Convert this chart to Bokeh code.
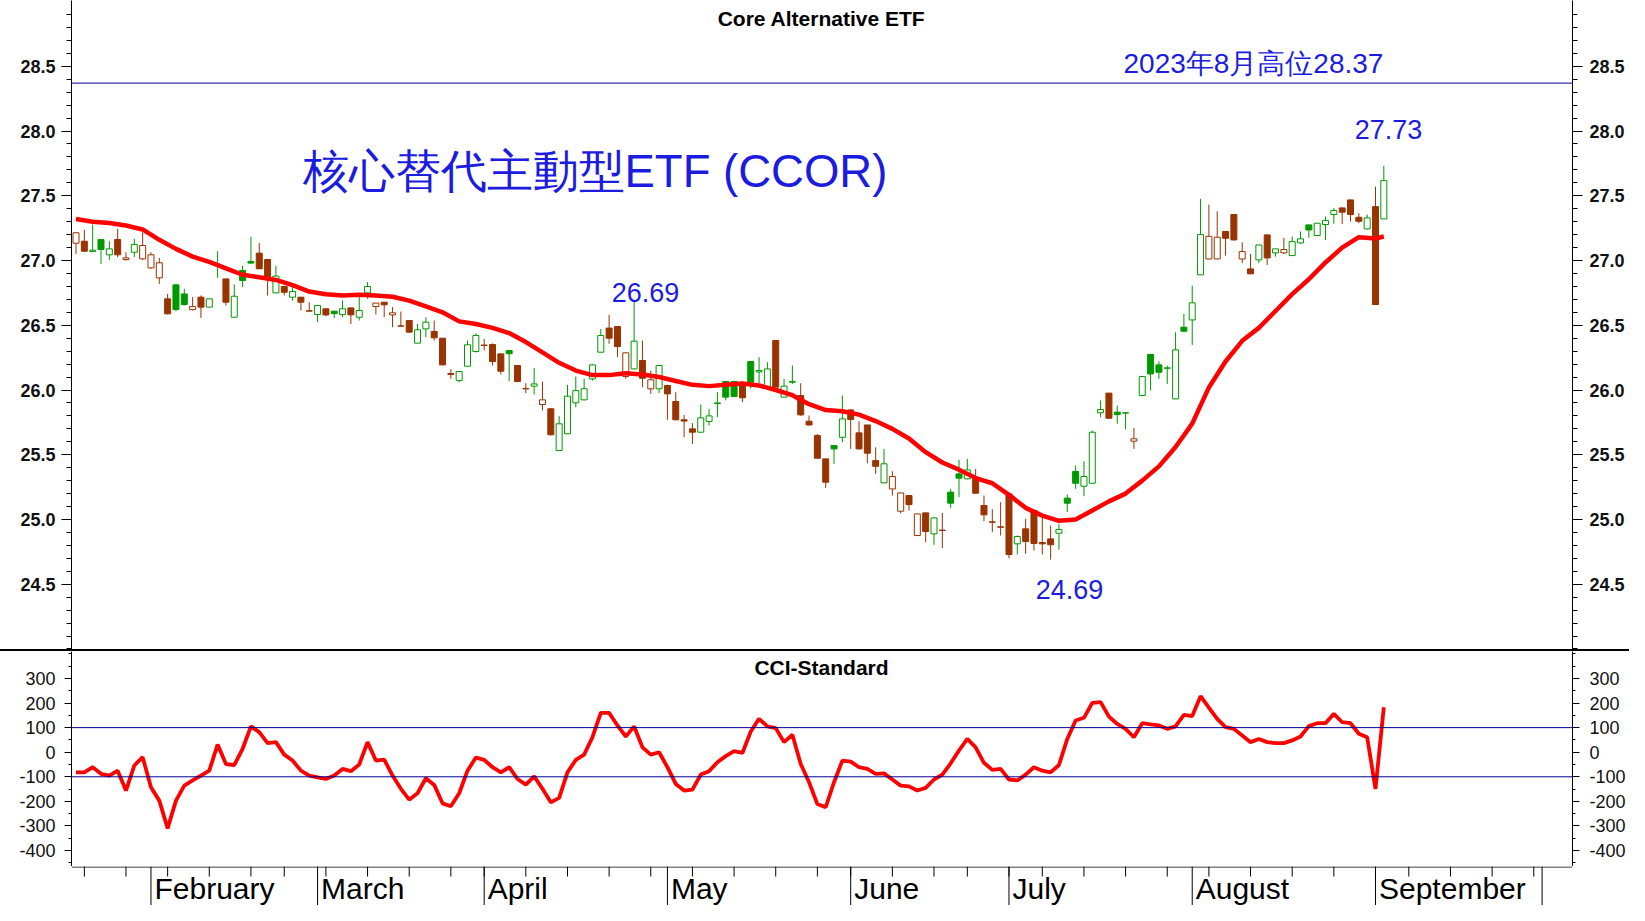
from bokeh.plotting import figure
from bokeh.models import (Range1d, LinearAxis, FixedTicker, Label, Span, Div,
                          PrintfTickFormatter, ColumnDataSource)
from bokeh.layouts import column
from bokeh.embed import file_html
from bokeh.resources import INLINE

# ---------------- data (trading-day index 0 = 2024-01-19) ----------------
prev_close = 27.25
opens = [27.134, 27.149, 27.07, 27.162, 27.044, 27.162, 27.007, 27.064, 27.013, 26.943,
         26.866, 26.704, 26.812, 26.742, 26.621, 26.717, 26.64, 26.96, 26.858, 26.562,
         26.923, 26.992, 27.057, 27.008, 26.75, 26.80, 26.717, 26.717, 26.612, 26.583,
         26.627, 26.609, 26.583, 26.634, 26.562, 26.75, 26.645, 26.678, 26.58, 26.495,
         26.537, 26.362, 26.472, 26.452, 26.40, 26.127, 26.073, 26.184, 26.297, 26.347,
         26.351, 26.279, 26.305, 26.189, 26.012, 26.03, 25.888, 25.855, 25.533, 25.662,
         25.901, 25.924, 26.086, 26.292, 26.478, 26.49, 26.104, 26.163, 26.228, 26.009,
         26.009, 26.035, 25.911, 25.77, 25.70, 25.674, 25.757, 25.895, 26.066, 26.066,
         26.047, 26.22, 26.14, 26.022, 26.382, 25.945, 26.06, 25.957, 25.759, 25.648,
         25.468, 25.571, 25.635, 25.846, 25.669, 25.73, 25.455, 25.283, 25.236, 25.064,
         25.185, 24.876, 25.051, 24.889, 24.918, 25.211, 25.352, 25.314, 25.326, 25.108,
         24.982, 24.943, 25.198, 24.812, 24.928, 25.07, 24.822, 24.85, 24.894, 25.165,
         25.371, 25.257, 25.28, 25.824, 25.976, 25.829, 25.822, 25.605, 25.958, 26.274,
         26.194, 26.168, 25.931, 26.485, 26.541, 26.889, 27.012, 27.012, 27.224, 27.355,
         27.012, 26.935, 27.005, 27.198, 27.059, 27.059, 27.038, 27.136, 27.275, 27.193,
         27.278, 27.355, 27.406, 27.468, 27.334, 27.244, 27.416, 27.321]
highs = [27.22, 27.237, 27.278, 27.162, 27.149, 27.244, 27.064, 27.167, 27.218, 27.064,
         27.02, 26.742, 26.815, 26.781, 26.717, 26.73, 26.704, 27.072, 26.86, 26.815,
         26.961, 27.185, 27.134, 27.008, 26.96, 26.80, 26.80, 26.717, 26.678, 26.653,
         26.63, 26.61, 26.691, 26.634, 26.717, 26.833, 26.671, 26.678, 26.64, 26.606,
         26.537, 26.51, 26.562, 26.537, 26.40, 26.16, 26.143, 26.382, 26.439, 26.395,
         26.36, 26.28, 26.305, 26.19, 26.053, 26.171, 26.066, 25.86, 25.798, 26.04,
         26.104, 26.086, 26.2, 26.472, 26.58, 26.49, 26.29, 26.69, 26.382, 26.15,
         26.19, 26.04, 25.983, 25.808, 25.744, 25.888, 25.855, 25.983, 26.066, 26.07,
         26.05, 26.22, 26.254, 26.215, 26.382, 26.086, 26.189, 26.052, 25.803, 25.661,
         25.47, 25.575, 25.957, 25.85, 25.759, 25.73, 25.558, 25.545, 25.373, 25.205,
         25.185, 25.045, 25.052, 25.015, 25.051, 25.237, 25.461, 25.468, 25.391, 25.185,
         25.08, 25.134, 25.198, 24.876, 25.005, 25.07, 25.031, 24.953, 24.967, 25.193,
         25.417, 25.45, 25.687, 25.919, 25.976, 25.88, 25.826, 25.708, 26.11, 26.28,
         26.222, 26.189, 26.446, 26.588, 26.806, 27.476, 27.432, 27.38, 27.225, 27.36,
         27.141, 27.051, 27.12, 27.2, 27.09, 27.175, 27.185, 27.224, 27.276, 27.29,
         27.339, 27.406, 27.41, 27.47, 27.365, 27.355, 27.571, 27.73]
lows = [27.05, 27.065, 27.065, 26.974, 27.005, 27.026, 27.0, 27.026, 27.005, 26.935,
        26.82, 26.585, 26.608, 26.652, 26.614, 26.557, 26.64, 26.866, 26.652, 26.56,
        26.794, 26.974, 26.936, 26.73, 26.75, 26.73, 26.69, 26.614, 26.605, 26.524,
        26.57, 26.557, 26.562, 26.51, 26.537, 26.704, 26.583, 26.562, 26.485, 26.49,
        26.44, 26.362, 26.408, 26.382, 26.19, 26.086, 26.06, 26.18, 26.29, 26.305,
        26.189, 26.12, 26.068, 26.06, 25.976, 25.965, 25.842, 25.65, 25.53, 25.66,
        25.867, 25.92, 26.073, 26.29, 26.357, 26.254, 26.086, 26.16, 26.022, 25.97,
        25.976, 25.77, 25.765, 25.636, 25.584, 25.67, 25.726, 25.79, 25.92, 25.945,
        25.906, 26.01, 26.053, 26.02, 26.02, 25.945, 26.047, 25.80, 25.725, 25.47,
        25.244, 25.43, 25.597, 25.545, 25.54, 25.435, 25.352, 25.28, 25.185, 25.048,
        25.07, 24.875, 24.825, 24.805, 24.78, 25.09, 25.172, 25.31, 25.2, 24.987,
        24.902, 24.876, 24.70, 24.73, 24.735, 24.76, 24.73, 24.69, 24.766, 25.057,
        25.237, 25.18, 25.28, 25.79, 25.78, 25.739, 25.695, 25.546, 25.955, 25.996,
        26.086, 26.047, 25.93, 26.45, 26.348, 26.889, 27.01, 27.01, 27.038, 27.155,
        26.979, 26.895, 26.979, 26.966, 27.03, 27.05, 27.035, 27.13, 27.175, 27.19,
        27.159, 27.283, 27.283, 27.301, 27.288, 27.24, 26.66, 27.32]
closes = [27.214, 27.072, 27.08, 27.085, 27.09, 27.044, 27.02, 27.123, 27.116, 27.044,
          26.982, 26.588, 26.621, 26.66, 26.644, 26.64, 26.704, 26.97, 26.678, 26.724,
          26.846, 26.98, 26.936, 26.876, 26.88, 26.755, 26.761, 26.678, 26.609, 26.653,
          26.58, 26.59, 26.627, 26.58, 26.614, 26.799, 26.671, 26.658, 26.596, 26.493,
          26.447, 26.465, 26.524, 26.403, 26.194, 26.12, 26.143, 26.349, 26.421, 26.344,
          26.22, 26.145, 26.28, 26.066, 26.009, 26.047, 25.924, 25.654, 25.739, 25.952,
          25.995, 26.01, 26.194, 26.421, 26.4, 26.336, 26.287, 26.377, 26.091, 26.079,
          26.189, 25.97, 25.77, 25.76, 25.674, 25.785, 25.80, 25.90, 25.945, 25.95,
          25.94, 26.06, 26.15, 26.163, 26.022, 26.03, 26.066, 25.808, 25.73, 25.473,
          25.288, 25.545, 25.777, 25.772, 25.545, 25.512, 25.411, 25.43, 25.332, 25.205,
          25.115, 25.043, 24.907, 25.012, 24.915, 25.126, 25.319, 25.383, 25.203, 25.036,
          24.979, 24.94, 24.73, 24.869, 24.83, 24.815, 24.812, 24.805, 24.923, 25.126,
          25.28, 25.332, 25.674, 25.849, 25.782, 25.81, 25.824, 25.623, 26.104, 26.124,
          26.137, 26.171, 26.31, 26.454, 26.673, 27.2, 27.187, 27.18, 27.172, 27.159,
          27.069, 26.897, 27.12, 27.02, 27.09, 27.085, 27.146, 27.167, 27.236, 27.288,
          27.308, 27.386, 27.373, 27.355, 27.303, 27.329, 26.66, 27.617]

ma_x = list(range(0, 157, 2)) + [157]
ma_y = [27.32, 27.30, 27.29, 27.27, 27.24, 27.16, 27.09, 27.03, 26.99, 26.94,
        26.89, 26.87, 26.85, 26.81, 26.76, 26.74, 26.73, 26.735, 26.73, 26.72,
        26.69, 26.645, 26.60, 26.53, 26.51, 26.48, 26.44, 26.37, 26.29, 26.21,
        26.15, 26.115, 26.115, 26.13, 26.12, 26.10, 26.07, 26.04, 26.03, 26.04,
        26.05, 26.035, 26.0, 25.96, 25.89, 25.845, 25.836, 25.81, 25.76, 25.70,
        25.625, 25.52, 25.44, 25.385, 25.32, 25.28, 25.19, 25.09, 25.03, 24.99,
        25.0, 25.07, 25.14, 25.20, 25.30, 25.41, 25.56, 25.74, 26.02, 26.22,
        26.38, 26.48, 26.61, 26.74, 26.855, 26.985, 27.10, 27.18, 27.17, 27.185]

cci = [-82, -82, -61, -88, -95, -75, -156, -54, -20, -143,
       -197, -310, -197, -136, -115, -95, -75, 31, -48, -52,
       14, 105, 82, 37, 41, -10, -34, -75, -95, -102,
       -109, -95, -68, -77, -50, 41, -34, -30, -95, -149,
       -193, -167, -106, -133, -208, -220, -167, -75, -22, -31,
       -61, -82, -61, -109, -132, -98, -149, -204, -186, -82,
       -31, -10, 61, 160, 160, 109, 64, 105, 20, -10,
       0, -61, -129, -156, -152, -91, -77, -41, -16, 4,
       -3, 84, 136, 105, 98, 41, 71, -48, -122, -211,
       -224, -122, -34, -38, -61, -68, -88, -86, -111, -136,
       -139, -156, -145, -111, -91, -45, 7, 54, 20, -43,
       -72, -68, -111, -115, -91, -61, -75, -82, -52, 54,
       129, 140, 201, 204, 145, 115, 95, 61, 118, 113,
       109, 95, 105, 152, 147, 228, 181, 136, 102, 95,
       68, 41, 54, 41, 37, 37, 48, 64, 106, 118,
       118, 156, 122, 118, 75, 61, -149, 183]

month_idx = [9, 29, 49, 71, 93, 112, 134, 156, 176]
month_names = ["February", "March", "April", "May", "June", "July", "August", "September"]
week_idx = [1, 6, 11, 16, 21, 25, 30, 35, 40, 45, 49, 54, 59, 64, 69, 74, 79, 84, 89, 93,
            98, 103, 107, 112, 116, 121, 126, 131, 136, 141, 146, 151, 156, 160, 165,
            170, 175]
price_ticks = [24.5, 25.0, 25.5, 26.0, 26.5, 27.0, 27.5, 28.0, 28.5]
cci_ticks = [-400, -300, -200, -100, 0, 100, 200, 300]
high_2023 = 28.37
peak_label, trough_label, last_label = "26.69", "24.69", "27.73"

# ---------------- styling ----------------
W = 1629
H1, H2, H3 = 649, 215, 39
BL, BR = 71, 57
GREEN = "#009900"
BROWN = "#993300"
BLUE = "#1c1ce0"
NAVY = "#000090"
FONT = "Liberation Sans"

xr = Range1d(-0.54, 179.65)

n = len(closes)
pc = [prev_close] + closes[:-1]
colors = [GREEN if closes[i] > pc[i] else BROWN for i in range(n)]
fills = ["white" if closes[i] > opens[i] else colors[i] for i in range(n)]
src = ColumnDataSource(dict(
    x=list(range(n)), o=opens, h=highs, l=lows, c=closes,
    top=[max(opens[i], closes[i]) for i in range(n)],
    bot=[min(opens[i], closes[i]) for i in range(n)],
    color=colors, fill=fills))


def style_axis(ax, bold, size, standoff, tmaj, tmin):
    ax.axis_line_color = "black"
    ax.major_tick_line_color = "black"
    ax.minor_tick_line_color = "black"
    ax.major_tick_in = 0
    ax.minor_tick_in = 0
    ax.major_tick_out = tmaj
    ax.minor_tick_out = tmin
    ax.major_label_text_font = FONT
    ax.major_label_text_font_style = "bold" if bold else "normal"
    ax.major_label_text_font_size = size
    ax.major_label_text_color = "#111111"
    ax.major_label_standoff = standoff


def base_fig(h, yr):
    f = figure(width=W, height=h, x_range=xr, y_range=yr, output_backend="svg",
               toolbar_location=None, x_axis_location=None, y_axis_location=None,
               min_border_left=BL, min_border_right=BR, min_border_top=0,
               min_border_bottom=0, margin=0)
    f.outline_line_color = None
    f.background_fill_color = "white"
    f.border_fill_color = "white"
    for g in f.grid:
        g.visible = False
    return f


# ---------------- price panel ----------------
p1 = base_fig(H1, Range1d(23.996, 29.008))
for side, so in (("left", 6), ("right", 7)):
    ax = LinearAxis(ticker=FixedTicker(ticks=price_ticks,
                                       minor_ticks=[round(24.0 + 0.1 * k, 1) for k in range(50)]),
                    formatter=PrintfTickFormatter(format="%.1f"))
    style_axis(ax, True, "18px", so, 10, 5)
    p1.add_layout(ax, side)

p1.add_layout(Span(location=high_2023, dimension="width", line_color=NAVY, line_width=1))
p1.segment(x0="x", y0="l", x1="x", y1="h", source=src, line_color="color", line_width=1)
p1.vbar(x="x", width=0.72, top="top", bottom="bot", source=src,
        fill_color="fill", line_color="color", line_width=1)
p1.line(ma_x, ma_y, line_color="#ff0000", line_width=4.5)

p1.add_layout(Label(x=750, y=631, x_units="screen", y_units="screen",
                    text="Core Alternative ETF", text_align="center", text_baseline="middle",
                    text_font=FONT, text_font_style="bold", text_font_size="21px",
                    text_color="black"))
p1.add_layout(Label(x=231, y=478, x_units="screen", y_units="screen",
                    text="核心替代主動型ETF (CCOR)", text_align="left", text_baseline="middle",
                    text_font=FONT, text_font_size="45.5px", text_color=BLUE))
p1.add_layout(Label(x=1052, y=586, x_units="screen", y_units="screen",
                    text="2023年8月高位28.37", text_align="left", text_baseline="middle",
                    text_font=FONT, text_font_size="28px", text_color=BLUE))
for txt, sx, sy in ((peak_label, 574, 357), (last_label, 1317, 520), (trough_label, 998, 60)):
    p1.add_layout(Label(x=sx, y=sy, x_units="screen", y_units="screen", text=txt,
                        text_align="center", text_baseline="middle",
                        text_font=FONT, text_font_size="27px", text_color=BLUE))

# ---------------- separator ----------------
sep = Div(text="", width=W, height=2, margin=0,
          styles={"background-color": "black", "overflow": "hidden",
                  "line-height": "0", "font-size": "0", "padding": "0"})

# ---------------- CCI panel ----------------
p2 = base_fig(H2, Range1d(-465, 409.8))
for side, so in (("left", 9), ("right", 10)):
    ax = LinearAxis(ticker=FixedTicker(ticks=cci_ticks,
                                       minor_ticks=list(range(-450, 401, 50))),
                    formatter=PrintfTickFormatter(format="%d"))
    style_axis(ax, False, "18px", so, 7, 3)
    p2.add_layout(ax, side)

for lv in (100, -100):
    p2.add_layout(Span(location=lv, dimension="width", line_color=NAVY, line_width=1))
p2.line(list(range(len(cci))), cci, line_color="#ff0000", line_width=3.8)

p2.add_layout(Label(x=750, y=199, x_units="screen", y_units="screen",
                    text="CCI-Standard", text_align="center", text_baseline="middle",
                    text_font=FONT, text_font_style="bold", text_font_size="21px",
                    text_color="black"))

# ---------------- time axis strip ----------------
p3 = base_fig(H3, Range1d(H3, 0))
p3.add_layout(Span(location=0.5, dimension="width", line_color="black", line_width=1))
p3.segment(x0=week_idx, y0=[0] * len(week_idx), x1=week_idx, y1=[10] * len(week_idx),
           line_color="black", line_width=1)
p3.segment(x0=month_idx, y0=[0] * len(month_idx), x1=month_idx, y1=[H3] * len(month_idx),
           line_color="black", line_width=1)
for mi, name in zip(month_idx, month_names):
    p3.add_layout(Label(x=mi, y=1, x_units="data", y_units="screen", x_offset=3.5,
                        text=name, text_align="left", text_baseline="bottom",
                        text_font=FONT, text_font_size="30px", text_color="black"))

layout = column(p1, sep, p2, p3, spacing=0)
open("out.html", "w").write(file_html(layout, INLINE))
